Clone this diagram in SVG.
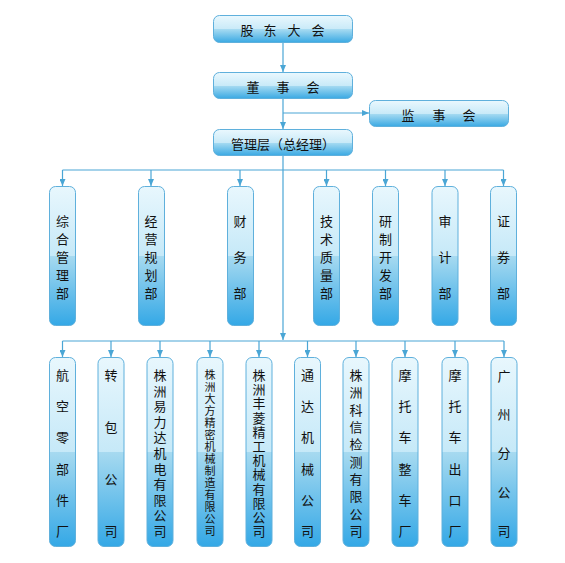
<svg xmlns="http://www.w3.org/2000/svg" width="565" height="563" viewBox="0 0 565 563">
<defs>
<linearGradient id="gh" x1="0" y1="0" x2="0" y2="1">
<stop offset="0" stop-color="#eaf8fe"/>
<stop offset="0.5" stop-color="#c9eaf8"/>
<stop offset="0.5" stop-color="#a9dcf2"/>
<stop offset="1" stop-color="#3aa9e3"/>
</linearGradient>
<linearGradient id="gv" x1="0" y1="0" x2="0" y2="1">
<stop offset="0" stop-color="#e8f7fd"/>
<stop offset="0.5" stop-color="#c6e9f8"/>
<stop offset="0.5" stop-color="#a7daf0"/>
<stop offset="1" stop-color="#34a8e6"/>
</linearGradient>
<marker id="ar" markerWidth="8" markerHeight="6" refX="7" refY="3" orient="auto" markerUnits="userSpaceOnUse">
<path d="M0,0 L7,3 L0,6 Z" fill="#4aa6d5"/>
</marker>
<style>
.bx{fill:url(#gh);stroke:#5fb0dc;stroke-width:1}
.vb{fill:url(#gv);stroke:#5fb0dc;stroke-width:1}
.t{font-family:"Noto Sans CJK SC","Noto Sans",sans-serif;font-size:13px;fill:#111;text-anchor:middle;dominant-baseline:central}
.s{font-size:11px}
.ln{stroke:#4aa6d5;stroke-width:1.2;fill:none}
.la{stroke:#4aa6d5;stroke-width:1.2;fill:none;marker-end:url(#ar)}
</style>
</defs>
<rect width="565" height="563" fill="#fff"/>
<g id="connectors">
<line class="la" x1="283" y1="42" x2="283" y2="72"/>
<line class="la" x1="283" y1="98" x2="283" y2="129"/>
<line class="la" x1="283" y1="113" x2="369" y2="113"/>
<line class="la" x1="283" y1="156" x2="283" y2="340"/>
<line class="ln" x1="62.5" y1="170" x2="503.5" y2="170"/>
<line class="la" x1="62.5" y1="170" x2="62.5" y2="186"/>
<line class="la" x1="151" y1="170" x2="151" y2="186"/>
<line class="la" x1="240" y1="170" x2="240" y2="186"/>
<line class="la" x1="326.5" y1="170" x2="326.5" y2="186"/>
<line class="la" x1="385.5" y1="170" x2="385.5" y2="186"/>
<line class="la" x1="445" y1="170" x2="445" y2="186"/>
<line class="la" x1="503.5" y1="170" x2="503.5" y2="186"/>
<line class="ln" x1="62.5" y1="341" x2="504" y2="341"/>
<line class="la" x1="62.5" y1="341" x2="62.5" y2="357"/>
<line class="la" x1="111" y1="341" x2="111" y2="357"/>
<line class="la" x1="160" y1="341" x2="160" y2="357"/>
<line class="la" x1="210" y1="341" x2="210" y2="357"/>
<line class="la" x1="259" y1="341" x2="259" y2="357"/>
<line class="la" x1="307.5" y1="341" x2="307.5" y2="357"/>
<line class="la" x1="356" y1="341" x2="356" y2="357"/>
<line class="la" x1="405" y1="341" x2="405" y2="357"/>
<line class="la" x1="455" y1="341" x2="455" y2="357"/>
<line class="la" x1="504" y1="341" x2="504" y2="357"/>
</g>
<g id="n-gudong"><rect class="bx" x="213.5" y="15.5" width="139" height="27" rx="6"/>
<text class="t" y="29"><tspan x="247">股</tspan><tspan x="270">东</tspan><tspan x="294">大</tspan><tspan x="318">会</tspan></text></g>
<g id="n-dongshi"><rect class="bx" x="213.5" y="72.5" width="139" height="26" rx="6"/>
<text class="t" y="86"><tspan x="253">董</tspan><tspan x="283">事</tspan><tspan x="313">会</tspan></text></g>
<g id="n-jianshi"><rect class="bx" x="369.5" y="100.5" width="139" height="26" rx="6"/>
<text class="t" y="114"><tspan x="408">监</tspan><tspan x="439">事</tspan><tspan x="469">会</tspan></text></g>
<g id="n-guanli"><rect class="bx" x="213.5" y="129.5" width="139" height="26" rx="6"/>
<text class="t" x="283" y="143">管理层（总经理）</text></g>

<g id="m1"><rect class="vb" x="49.5" y="186.5" width="26" height="139" rx="6"/>
<text class="t"><tspan x="62.5" y="220">综</tspan><tspan x="62.5" y="238">合</tspan><tspan x="62.5" y="256">管</tspan><tspan x="62.5" y="274">理</tspan><tspan x="62.5" y="292">部</tspan></text></g>
<g id="m2"><rect class="vb" x="138.5" y="186.5" width="26" height="139" rx="6"/>
<text class="t"><tspan x="151" y="220">经</tspan><tspan x="151" y="238">营</tspan><tspan x="151" y="256">规</tspan><tspan x="151" y="274">划</tspan><tspan x="151" y="292">部</tspan></text></g>
<g id="m3"><rect class="vb" x="227.5" y="186.5" width="26" height="139" rx="6"/>
<text class="t"><tspan x="240" y="220">财</tspan><tspan x="240" y="256">务</tspan><tspan x="240" y="292">部</tspan></text></g>
<g id="m4"><rect class="vb" x="313.5" y="186.5" width="26" height="139" rx="6"/>
<text class="t"><tspan x="326.5" y="220">技</tspan><tspan x="326.5" y="238">术</tspan><tspan x="326.5" y="256">质</tspan><tspan x="326.5" y="274">量</tspan><tspan x="326.5" y="292">部</tspan></text></g>
<g id="m5"><rect class="vb" x="372.5" y="186.5" width="26" height="139" rx="6"/>
<text class="t"><tspan x="385.5" y="220">研</tspan><tspan x="385.5" y="238">制</tspan><tspan x="385.5" y="256">开</tspan><tspan x="385.5" y="274">发</tspan><tspan x="385.5" y="292">部</tspan></text></g>
<g id="m6"><rect class="vb" x="432" y="186.5" width="26" height="139" rx="6"/>
<text class="t"><tspan x="445" y="220">审</tspan><tspan x="445" y="256">计</tspan><tspan x="445" y="292">部</tspan></text></g>
<g id="m7"><rect class="vb" x="490.5" y="186.5" width="26" height="139" rx="6"/>
<text class="t"><tspan x="503.5" y="220">证</tspan><tspan x="503.5" y="256">券</tspan><tspan x="503.5" y="292">部</tspan></text></g>

<g id="b1"><rect class="vb" x="49.5" y="357.5" width="26" height="189" rx="6"/>
<text class="t"><tspan x="62.5" y="374">航</tspan><tspan x="62.5" y="405">空</tspan><tspan x="62.5" y="436">零</tspan><tspan x="62.5" y="468">部</tspan><tspan x="62.5" y="499">件</tspan><tspan x="62.5" y="530">厂</tspan></text></g>
<g id="b2"><rect class="vb" x="98" y="357.5" width="26" height="189" rx="6"/>
<text class="t"><tspan x="111" y="374">转</tspan><tspan x="111" y="426">包</tspan><tspan x="111" y="478">公</tspan><tspan x="111" y="530">司</tspan></text></g>
<g id="b3"><rect class="vb" x="147" y="357.5" width="26" height="189" rx="6"/>
<text class="t"><tspan x="160" y="374">株</tspan><tspan x="160" y="389.6">洲</tspan><tspan x="160" y="405.2">易</tspan><tspan x="160" y="420.8">力</tspan><tspan x="160" y="436.4">达</tspan><tspan x="160" y="452">机</tspan><tspan x="160" y="467.6">电</tspan><tspan x="160" y="483.2">有</tspan><tspan x="160" y="498.8">限</tspan><tspan x="160" y="514.4">公</tspan><tspan x="160" y="530">司</tspan></text></g>
<g id="b4"><rect class="vb" x="197" y="357.5" width="26" height="189" rx="6"/>
<text class="t s"><tspan x="210" y="374">株</tspan><tspan x="210" y="386">洲</tspan><tspan x="210" y="398">大</tspan><tspan x="210" y="410">方</tspan><tspan x="210" y="422">精</tspan><tspan x="210" y="434">密</tspan><tspan x="210" y="446">机</tspan><tspan x="210" y="458">械</tspan><tspan x="210" y="470">制</tspan><tspan x="210" y="482">造</tspan><tspan x="210" y="494">有</tspan><tspan x="210" y="506">限</tspan><tspan x="210" y="518">公</tspan><tspan x="210" y="530">司</tspan></text></g>
<g id="b5"><rect class="vb" x="246" y="357.5" width="26" height="189" rx="6"/>
<text class="t"><tspan x="259" y="374">株</tspan><tspan x="259" y="388.2">洲</tspan><tspan x="259" y="402.4">丰</tspan><tspan x="259" y="416.5">菱</tspan><tspan x="259" y="430.7">精</tspan><tspan x="259" y="444.9">工</tspan><tspan x="259" y="459.1">机</tspan><tspan x="259" y="473.3">械</tspan><tspan x="259" y="487.5">有</tspan><tspan x="259" y="501.6">限</tspan><tspan x="259" y="515.8">公</tspan><tspan x="259" y="530">司</tspan></text></g>
<g id="b6"><rect class="vb" x="294.5" y="357.5" width="26" height="189" rx="6"/>
<text class="t"><tspan x="307.5" y="374">通</tspan><tspan x="307.5" y="405">达</tspan><tspan x="307.5" y="436">机</tspan><tspan x="307.5" y="468">械</tspan><tspan x="307.5" y="499">公</tspan><tspan x="307.5" y="530">司</tspan></text></g>
<g id="b7"><rect class="vb" x="343" y="357.5" width="26" height="189" rx="6"/>
<text class="t"><tspan x="356" y="374">株</tspan><tspan x="356" y="391.3">洲</tspan><tspan x="356" y="408.7">科</tspan><tspan x="356" y="426">信</tspan><tspan x="356" y="443.3">检</tspan><tspan x="356" y="460.7">测</tspan><tspan x="356" y="478">有</tspan><tspan x="356" y="495.3">限</tspan><tspan x="356" y="512.7">公</tspan><tspan x="356" y="530">司</tspan></text></g>
<g id="b8"><rect class="vb" x="392" y="357.5" width="26" height="189" rx="6"/>
<text class="t"><tspan x="405" y="374">摩</tspan><tspan x="405" y="405">托</tspan><tspan x="405" y="436">车</tspan><tspan x="405" y="468">整</tspan><tspan x="405" y="499">车</tspan><tspan x="405" y="530">厂</tspan></text></g>
<g id="b9"><rect class="vb" x="442" y="357.5" width="26" height="189" rx="6"/>
<text class="t"><tspan x="455" y="374">摩</tspan><tspan x="455" y="405">托</tspan><tspan x="455" y="436">车</tspan><tspan x="455" y="468">出</tspan><tspan x="455" y="499">口</tspan><tspan x="455" y="530">厂</tspan></text></g>
<g id="b10"><rect class="vb" x="491" y="357.5" width="26" height="189" rx="6"/>
<text class="t"><tspan x="504" y="375">广</tspan><tspan x="504" y="413">州</tspan><tspan x="504" y="452">分</tspan><tspan x="504" y="491">公</tspan><tspan x="504" y="530">司</tspan></text></g>
</svg>
